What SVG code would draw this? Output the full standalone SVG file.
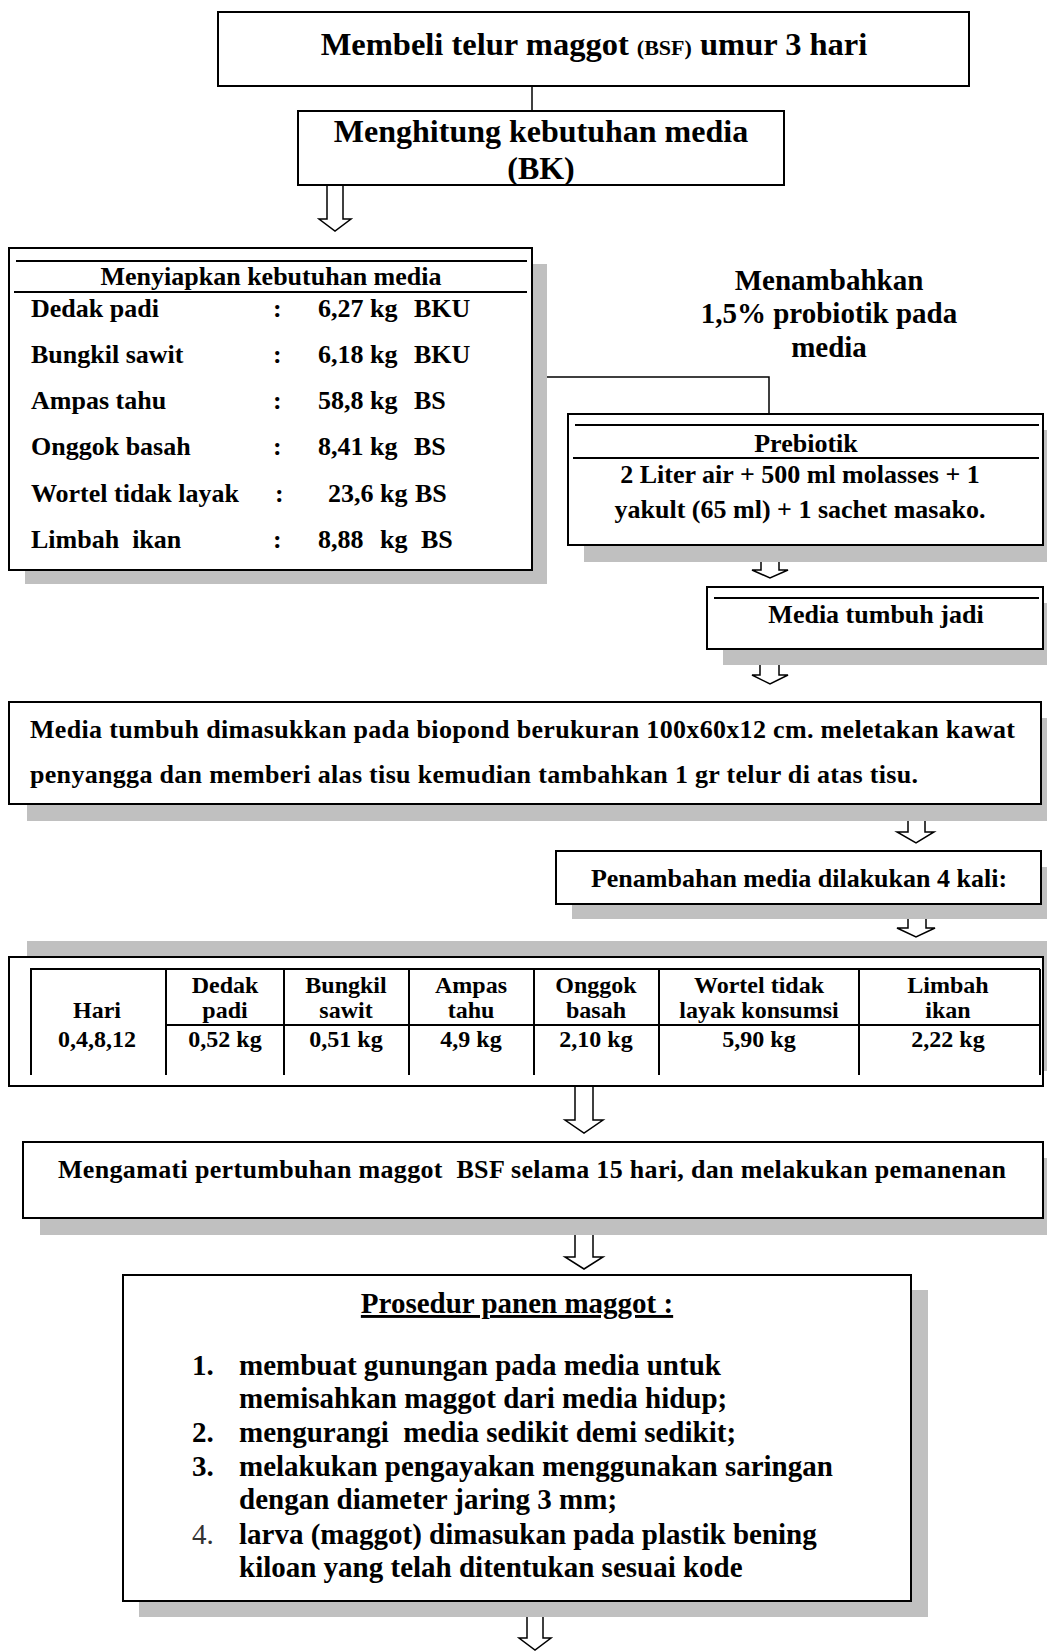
<svg xmlns="http://www.w3.org/2000/svg" width="1047" height="1651" viewBox="0 0 1047 1651">
<style>
text{font-family:"Liberation Serif","Times New Roman",serif;font-weight:bold;fill:#000}
.box{fill:#fff;stroke:#000;stroke-width:2}
.sh{fill:#c0c0c0;stroke:none}
.ln{stroke:#000;stroke-width:2;fill:none}
.arr{fill:#fff;stroke:#000;stroke-width:1.5}
.con{stroke:#000;stroke-width:1.5;fill:none}
.c{text-anchor:middle}
.f32{font-size:32px}
.f29{font-size:29px}
.f26{font-size:26px}
.f24{font-size:24px}
.reg{font-weight:normal;fill:#333}
</style>
<rect width="1047" height="1651" fill="#fff"/>

<g id="connectors">
<line class="con" x1="532" y1="86" x2="532" y2="111"/>
<polyline class="con" points="532,377 769,377 769,414"/>
<path class="arr" d="M327,185 H343 V219 H351 L335,231 L319,219 H327 Z"/>
<path class="arr" d="M761,545 H779 V570 H788 L770,578 L752,570 H761 Z"/>
<path class="arr" d="M760,649 H779 V675 H788 L770,684 L752,675 H760 Z"/>
<path class="arr" d="M908,804 H925 V832 H934 L916,843 L897,832 H908 Z"/>
<path class="arr" d="M908,904 H926 V928 H935 L916,937 L897,928 H908 Z"/>
<path class="arr" d="M575,1086 H593 V1120 H603 L584,1133 L565,1120 H575 Z"/>
<path class="arr" d="M575,1218 H593 V1257 H603 L584,1269 L565,1257 H575 Z"/>
<path class="arr" d="M527,1601 H543 V1638 H551 L535,1650 L519,1638 H527 Z"/>
</g>

<g id="n1">
<rect class="box" x="218" y="12" width="751" height="74"/>
<text class="c" x="594" y="55" font-size="32.5px" style="font-size:32.5px">Membeli telur maggot <tspan style="font-size:22px">(BSF)</tspan> umur 3 hari</text>
</g>

<g id="n2">
<rect class="box" x="298" y="111" width="486" height="74"/>
<text class="c f32" x="541" y="142">Menghitung kebutuhan media</text>
<text class="c f32" x="541" y="179">(BK)</text>
</g>

<g id="n3">
<rect class="sh" x="25" y="264" width="522" height="320"/>
<rect class="box" x="9" y="248" width="523" height="322"/>
<line class="ln" x1="16" y1="261" x2="527" y2="261"/>
<line class="ln" x1="14" y1="292" x2="527" y2="292"/>
<text class="c f26" x="271" y="285">Menyiapkan kebutuhan media</text>
<g class="f26">
<text x="31" y="317">Dedak padi</text><text x="273" y="317">:</text><text x="318" y="317">6,27 kg</text><text x="414" y="317">BKU</text>
<text x="31" y="363">Bungkil sawit</text><text x="273" y="363">:</text><text x="318" y="363">6,18 kg</text><text x="414" y="363">BKU</text>
<text x="31" y="409">Ampas tahu</text><text x="273" y="409">:</text><text x="318" y="409">58,8 kg</text><text x="414" y="409">BS</text>
<text x="31" y="455">Onggok basah</text><text x="273" y="455">:</text><text x="318" y="455">8,41 kg</text><text x="414" y="455">BS</text>
<text x="31" y="502">Wortel tidak layak</text><text x="275" y="502">:</text><text x="328" y="502">23,6 kg</text><text x="415" y="502">BS</text>
<text x="31" y="548" xml:space="preserve">Limbah  ikan</text><text x="273" y="548">:</text><text x="318" y="548">8,88</text><text x="380" y="548">kg</text><text x="421" y="548">BS</text>
</g>
</g>

<g id="n4">
<text class="c f29" x="829" y="290">Menambahkan</text>
<text class="c f29" x="829" y="323">1,5% probiotik pada</text>
<text class="c f29" x="829" y="357">media</text>
</g>

<g id="n5">
<rect class="sh" x="584" y="430" width="470" height="132"/>
<rect class="box" x="568" y="414" width="475" height="131"/>
<line class="ln" x1="575" y1="425" x2="1039" y2="425"/>
<line class="ln" x1="573" y1="458" x2="1039" y2="458"/>
<text class="c f26" x="806" y="452">Prebiotik</text>
<text class="c f26" x="800" y="483">2 Liter air + 500 ml molasses + 1</text>
<text class="c f26" x="800" y="518">yakult (65 ml) + 1 sachet masako.</text>
</g>

<g id="n6">
<rect class="sh" x="723" y="603" width="330" height="62"/>
<rect class="box" x="707" y="587" width="336" height="62"/>
<line class="ln" x1="714" y1="598" x2="1039" y2="598"/>
<text class="c f26" x="876" y="623">Media tumbuh jadi</text>
</g>

<g id="n7">
<rect class="sh" x="27" y="718" width="1030" height="103"/>
<rect class="box" x="9" y="702" width="1032" height="102"/>
<text class="f26" x="30" y="738" textLength="985" lengthAdjust="spacing">Media tumbuh dimasukkan pada biopond berukuran 100x60x12 cm. meletakan kawat</text>
<text class="f26" x="30" y="783" textLength="888" lengthAdjust="spacing">penyangga dan memberi alas tisu kemudian tambahkan 1 gr telur di atas tisu.</text>
</g>

<g id="n8">
<rect class="sh" x="572" y="867" width="480" height="52"/>
<rect class="box" x="556" y="851" width="485" height="53"/>
<text class="c f26" x="799" y="887">Penambahan media dilakukan 4 kali:</text>
</g>

<g id="n9">
<rect class="sh" x="27" y="941" width="1030" height="130"/>
<rect class="box" x="9" y="957" width="1034" height="129"/>
<line class="ln" x1="30" y1="969" x2="1040" y2="969"/>
<line class="ln" x1="166" y1="1025" x2="1040" y2="1025"/>
<line class="ln" x1="31" y1="969" x2="31" y2="1075"/>
<line class="ln" x1="166" y1="969" x2="166" y2="1075"/>
<line class="ln" x1="284" y1="969" x2="284" y2="1075"/>
<line class="ln" x1="409" y1="969" x2="409" y2="1075"/>
<line class="ln" x1="534" y1="969" x2="534" y2="1075"/>
<line class="ln" x1="659" y1="969" x2="659" y2="1075"/>
<line class="ln" x1="859" y1="969" x2="859" y2="1075"/>
<line class="ln" x1="1040" y1="969" x2="1040" y2="1075"/>
<g class="c f24">
<text x="97" y="1018">Hari</text><text x="97" y="1047">0,4,8,12</text>
<text x="225" y="993">Dedak</text><text x="225" y="1018">padi</text><text x="225" y="1047">0,52 kg</text>
<text x="346" y="993">Bungkil</text><text x="346" y="1018">sawit</text><text x="346" y="1047">0,51 kg</text>
<text x="471" y="993">Ampas</text><text x="471" y="1018">tahu</text><text x="471" y="1047">4,9 kg</text>
<text x="596" y="993">Onggok</text><text x="596" y="1018">basah</text><text x="596" y="1047">2,10 kg</text>
<text x="759" y="993">Wortel tidak</text><text x="759" y="1018">layak konsumsi</text><text x="759" y="1047">5,90 kg</text>
<text x="948" y="993">Limbah</text><text x="948" y="1018">ikan</text><text x="948" y="1047">2,22 kg</text>
</g>
</g>

<g id="n10">
<rect class="sh" x="40" y="1158" width="1010" height="77"/>
<rect class="box" x="23" y="1142" width="1020" height="76"/>
<text class="f26" x="58" y="1178" xml:space="preserve" textLength="948" lengthAdjust="spacing">Mengamati pertumbuhan maggot  BSF selama 15 hari, dan melakukan pemanenan</text>
</g>

<g id="n11">
<rect class="sh" x="139" y="1290" width="789" height="327"/>
<rect class="box" x="123" y="1275" width="788" height="326"/>
<text class="c f29" x="517" y="1313" text-decoration="underline">Prosedur panen maggot :</text>
<g class="f29">
<text x="192" y="1375">1.</text><text x="239" y="1375">membuat gunungan pada media untuk</text>
<text x="239" y="1408">memisahkan maggot dari media hidup;</text>
<text x="192" y="1442">2.</text><text x="239" y="1442" xml:space="preserve">mengurangi  media sedikit demi sedikit;</text>
<text x="192" y="1476">3.</text><text x="239" y="1476">melakukan pengayakan menggunakan saringan</text>
<text x="239" y="1509">dengan diameter jaring 3 mm;</text>
<text class="reg" x="192" y="1544">4.</text><text x="239" y="1544">larva (maggot) dimasukan pada plastik bening</text>
<text x="239" y="1577">kiloan yang telah ditentukan sesuai kode</text>
</g>
</g>
</svg>
